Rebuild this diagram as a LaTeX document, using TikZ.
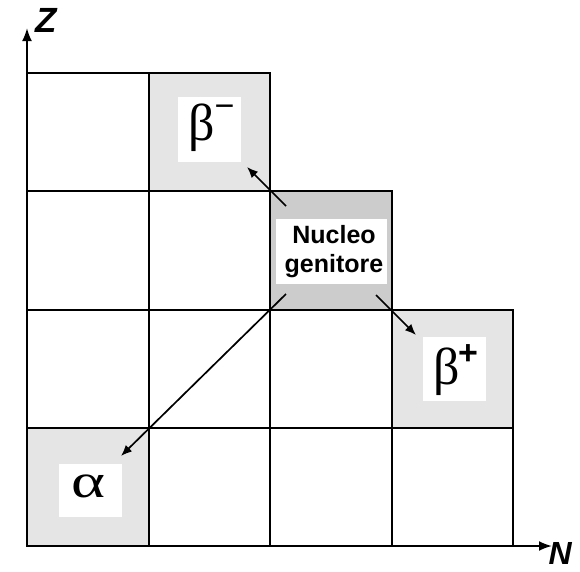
\documentclass[tikz,border=0pt]{standalone}
\usepackage{fontspec}
\usepackage{graphicx}
\setmainfont{Liberation Sans}
\newfontfamily\greekfont{Liberation Serif}
\usetikzlibrary{arrows.meta}
\begin{document}
\begin{tikzpicture}[x=1pt,y=-1pt,
  cell/.style={draw=black, line width=2pt, minimum width=121.5pt, minimum height=118.25pt, inner sep=0pt, anchor=center},
  light/.style={fill=black!10},
  dark/.style={fill=black!20},
  labelbox/.style={fill=white, inner sep=0pt, anchor=center},
  greek/.style={font=\greekfont\fontsize{52}{54}\selectfont, inner sep=0pt},
  supr/.style={font=\fontsize{34}{36}\selectfont\bfseries, inner sep=0pt},
  arr/.style={line width=1.7pt, -{Latex[length=11pt,width=9pt]}},
  axis/.style={line width=2pt, -{Latex[length=13pt,width=10pt]}},
  axlabel/.style={font=\fontsize{35}{37}\selectfont\bfseries\itshape, inner sep=0pt}
]
\useasboundingbox (0,0) rectangle (580,571);
\def\cw{121.5}\def\ch{118.25}
% grid cells (row, column)
\foreach \r/\c/\s in {0/0/, 0/1/light, 1/0/, 1/1/, 1/2/dark, 2/0/, 2/1/, 2/2/, 2/3/light, 3/0/light, 3/1/, 3/2/, 3/3/}{
  \node[cell,\s] (r\r c\c) at ({27+\cw*(\c+0.5)},{73+\ch*(\r+0.5)}) {};
}
% white label boxes
\node[labelbox, minimum width=63pt, minimum height=65pt] (bmbox) at (209.5,129.5) {};
\node[greek] (bm) at (202,128) {β};
\node[supr, font=\fontsize{34}{36}\selectfont] (bmsup) at (224.5,111) {−};
\node[labelbox, minimum width=63pt, minimum height=64pt] (bpbox) at (454.5,369) {};
\node[greek] (bp) at (447,372) {β};
\node[supr] (bpsup) at (468,354.5) {+};
\node[labelbox, minimum width=63pt, minimum height=53pt] (abox) at (90.5,490.5) {};
\node[font=\greekfont\fontsize{48}{50}\selectfont, inner sep=0pt] (al) at (88.5,486) {\scalebox{1.35}[1]{α}};
\node[labelbox, minimum width=111pt, minimum height=65pt] (nuc) at (331.5,251.5) {};
\node[align=center, inner sep=0pt, font=\fontsize{25}{29}\selectfont\bfseries] (nuctext) at (334,252) {Nucleo\\genitore};
% axes
\coordinate (origin) at (27,546);
\coordinate (ztip) at (27,28);
\coordinate (ntip) at (552,546);
\draw[axis] (origin) -- (ztip);
\draw[axis] (origin) -- (ntip);
\node[axlabel] (zl) at (46,20) {Z};
\node[axlabel, font=\fontsize{32}{34}\selectfont\bfseries\itshape, anchor=base east] (nl) at (572,564) {N};
% decay arrows
\coordinate (s1) at (286,206);
\coordinate (t1) at (247,167);
\coordinate (s2) at (376,295);
\coordinate (t2) at (416,335);
\coordinate (s3) at (286,294);
\coordinate (t3) at (121,456);
\draw[arr] (s1) -- (t1);
\draw[arr] (s2) -- (t2);
\draw[arr] (s3) -- (t3);
\end{tikzpicture}
\end{document}
